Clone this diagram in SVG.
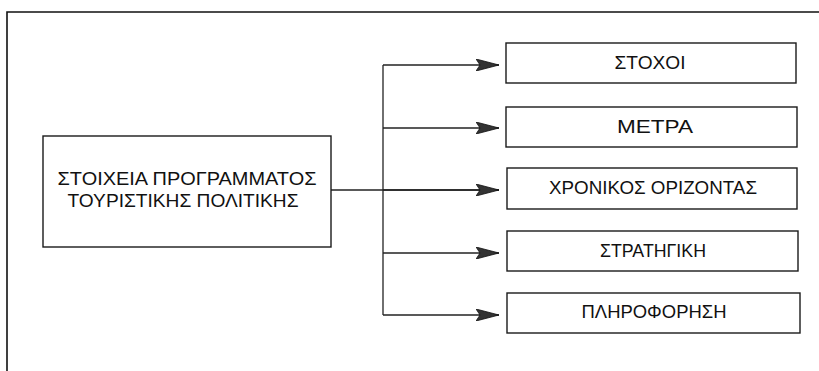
<svg xmlns="http://www.w3.org/2000/svg" width="819" height="371" viewBox="0 0 819 371">
<style>
.box{fill:#fff;stroke:#1a1a1a;stroke-width:1.4}
.conn{fill:none;stroke:#222;stroke-width:1.3}
.frame{fill:none;stroke:#111;stroke-width:1.6}
text{font-family:"Liberation Sans","DejaVu Sans",sans-serif;font-size:18px;fill:#111;text-anchor:middle}
</style>
<defs>
<marker id="ah" markerWidth="24" markerHeight="12" refX="23" refY="6" orient="auto" markerUnits="userSpaceOnUse">
<path d="M0,0 L23,6 L0,12 L4,6 z" fill="#333" stroke="#111" stroke-width="0.8"/>
</marker>
</defs>
<rect width="819" height="371" fill="#fff"/>
<path class="frame" d="M7,371 L7,12 L819,12"/>
<g id="connectors">
<path class="conn" d="M331,190 L499,190"/>
<path class="conn" d="M383,65 L383,315"/>
<path class="conn" d="M383,65 L499,65" marker-end="url(#ah)"/>
<path class="conn" d="M383,128 L499,128" marker-end="url(#ah)"/>
<path class="conn" d="M383,190 L499,190" marker-end="url(#ah)"/>
<path class="conn" d="M383,253 L499,253" marker-end="url(#ah)"/>
<path class="conn" d="M383,315 L499,315" marker-end="url(#ah)"/>
</g>
<g id="main">
<rect class="box" x="43" y="136" width="288" height="111"/>
<text x="187" y="185" textLength="259" lengthAdjust="spacingAndGlyphs">ΣΤΟΙΧΕΙΑ ΠΡΟΓΡΑΜΜΑΤΟΣ</text>
<text x="183" y="207" textLength="231" lengthAdjust="spacingAndGlyphs">ΤΟΥΡΙΣΤΙΚΗΣ ΠΟΛΙΤΙΚΗΣ</text>
</g>
<g id="stoxoi">
<rect class="box" x="506" y="43" width="290" height="40"/>
<text x="650" y="69" textLength="71" lengthAdjust="spacingAndGlyphs">ΣΤΟΧΟΙ</text>
</g>
<g id="metra">
<rect class="box" x="506" y="107" width="291" height="40"/>
<text x="655" y="133" textLength="76" lengthAdjust="spacingAndGlyphs">ΜΕΤΡΑ</text>
</g>
<g id="xronikos">
<rect class="box" x="507" y="168" width="290" height="41"/>
<text x="653" y="194" textLength="208" lengthAdjust="spacingAndGlyphs">ΧΡΟΝΙΚΟΣ ΟΡΙΖΟΝΤΑΣ</text>
</g>
<g id="stratigiki">
<rect class="box" x="507" y="231" width="291" height="40"/>
<text x="653" y="257" textLength="106" lengthAdjust="spacingAndGlyphs">ΣΤΡΑΤΗΓΙΚΗ</text>
</g>
<g id="pliroforisi">
<rect class="box" x="507" y="293" width="293" height="40"/>
<text x="654" y="318" textLength="145" lengthAdjust="spacingAndGlyphs">ΠΛΗΡΟΦΟΡΗΣΗ</text>
</g>
</svg>
